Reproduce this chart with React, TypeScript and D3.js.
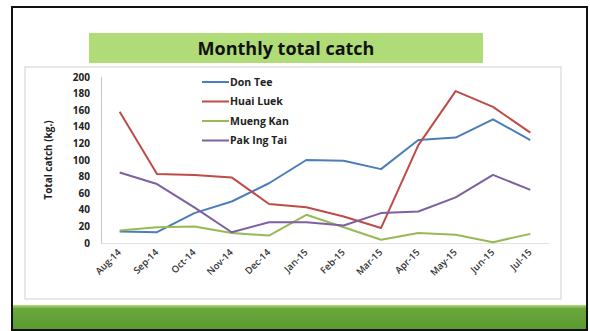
import React from "react";
import * as d3 from "d3";

const months = ["Aug-14","Sep-14","Oct-14","Nov-14","Dec-14","Jan-15","Feb-15","Mar-15","Apr-15","May-15","Jun-15","Jul-15"];
const donTee = [14, 13, 36, 50, 72, 100, 99, 89, 124, 127, 149, 124];
const huaiLuek = [158, 83, 82, 79, 47, 43, 32, 18, 118, 183, 164, 133];
const muengKan = [15, 19, 20, 12, 9, 34, 19, 4, 12, 10, 1, 11];
const pakIngTai = [85, 71, 43, 13, 25, 25, 21, 36, 38, 55, 82, 64];
const seriesNames = ["Don Tee", "Huai Luek", "Mueng Kan", "Pak Ing Tai"];
const seriesColors = ["#4a7ebb", "#be4b48", "#98b954", "#7d60a0"];
const yTicks = [0, 20, 40, 60, 80, 100, 120, 140, 160, 180, 200];

const FONT = "'Open Sans', 'Liberation Sans', sans-serif";

export default function App() {
  const W = 590, H = 331;
  const x = d3.scaleBand<string>().domain(months).range([101, 549]);
  const y = d3.scaleLinear().domain([0, 200]).range([243, 77]);
  const data = [donTee, huaiLuek, muengKan, pakIngTai];
  const line = d3.line<number>()
    .x((_, i) => (x(months[i]) as number) + x.bandwidth() / 2)
    .y((v) => y(v));

  return (
    <svg width={W} height={H} style={{ position: "absolute", left: 0, top: 0 }}>
      <defs>
        <linearGradient id="gbar" x1="0" y1="0" x2="0" y2="1">
          <stop offset="0" stopColor="#b5dc7a" />
          <stop offset="0.15" stopColor="#6aa83c" />
          <stop offset="1" stopColor="#5a9a30" />
        </linearGradient>
      </defs>
      <rect x={0} y={0} width={W} height={H} fill="#ffffff" />
      <rect x={12} y={7} width={575} height={323} fill="#ffffff" stroke="#111" strokeWidth={2} />
      <rect x={13} y={305} width={573} height={24} fill="url(#gbar)" />
      <rect x={89} y={33} width={394} height={30} fill="#b0dc78" />
      <text x={286} y={54.5} textAnchor="middle" fontFamily={FONT} fontWeight="bold" fontSize={18} fill="#111">
        Monthly total catch
      </text>
      <rect x={25} y={67} width={536} height={232} fill="#ffffff" stroke="#d0d0d0" strokeWidth={1} />
      <line x1={101.5} y1={77} x2={101.5} y2={243} stroke="#c8c8c8" strokeWidth={1} />
      <line x1={101} y1={243.5} x2={549} y2={243.5} stroke="#e0e0e0" strokeWidth={1} />
      {yTicks.map((t) => (
        <text key={t} x={90} y={y(t) + 3.5} textAnchor="end" fontFamily={FONT} fontWeight="bold" fontSize={10} fill="#222">
          {t}
        </text>
      ))}
      <text transform={`translate(52,160) rotate(-90)`} textAnchor="middle" fontFamily={FONT} fontWeight="bold" fontSize={10} fill="#222">
        Total catch (kg.)
      </text>
      {months.map((m) => {
        const cx = (x(m) as number) + x.bandwidth() / 2 + 2;
        return (
          <text key={m} transform={`translate(${cx},253) rotate(-45)`} textAnchor="end" fontFamily={FONT} fontWeight="600" fontSize={9.5} fill="#333">
            {m}
          </text>
        );
      })}
      {data.map((d, i) => (
        <path key={i} d={line(d) || ""} fill="none" stroke={seriesColors[i]} strokeWidth={2} strokeLinejoin="round" />
      ))}
      {seriesNames.map((n, i) => (
        <g key={n}>
          <line x1={202} x2={229} y1={82 + i * 19.5} y2={82 + i * 19.5} stroke={seriesColors[i]} strokeWidth={2} />
          <text x={230} y={85.5 + i * 19.5} fontFamily={FONT} fontWeight="bold" fontSize={10.5} fill="#222">
            {n}
          </text>
        </g>
      ))}
    </svg>
  );
}
